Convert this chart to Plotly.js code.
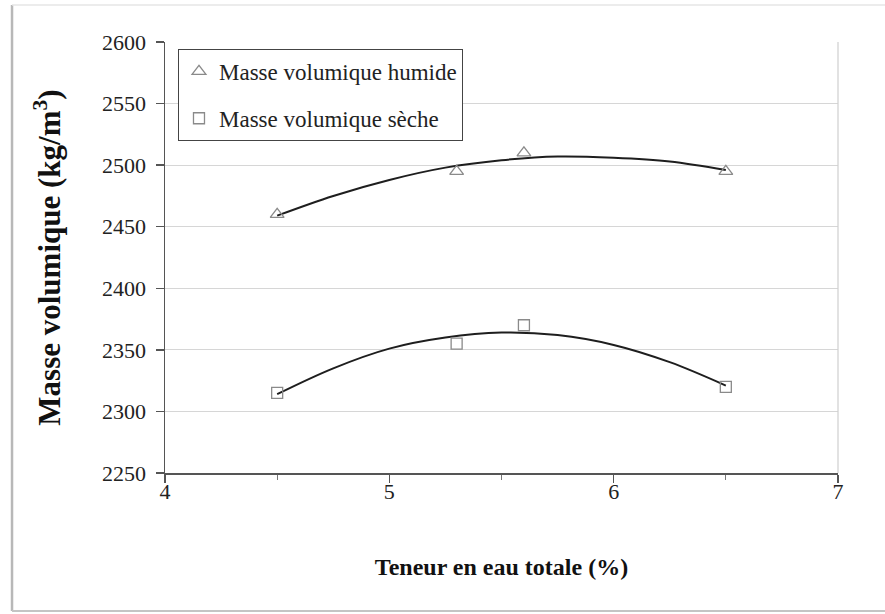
<!DOCTYPE html>
<html>
<head>
<meta charset="utf-8">
<script src="https://cdn.plot.ly/plotly-3.0.1.min.js"></script>
<style>
  html, body { margin: 0; padding: 0; background: #ffffff; }
  #chart { width: 885px; height: 614px; }
</style>
</head>
<body>
<div id="chart"></div>
<script>
// Measured points
const waterContent = [4.5, 5.3, 5.6, 6.5];
const densityWet = [2460, 2495, 2510, 2495];
const densityDry = [2315, 2355, 2370, 2320];

// Trend curves
const trendX = [4.5, 4.75, 5.0, 5.25, 5.5, 5.75, 6.0, 6.25, 6.5];
const trendWet = [2459, 2475, 2488, 2498, 2504, 2507, 2506, 2503, 2496];
const trendDry = [2314, 2335, 2351, 2360, 2364, 2362, 2354, 2340, 2321];

// Tick labels
const xTickValues = [4, 5, 6, 7];
const yTickValues = [2250, 2300, 2350, 2400, 2450, 2500, 2550, 2600];

const seriesNames = ['Masse volumique humide', 'Masse volumique sèche'];
const xTitle = 'Teneur en eau totale (%)';
const yTitle = 'Masse volumique (kg/m<sup>3</sup>)';

const serif = 'Liberation Serif';
const markerGray = '#8a8a8a';
const curveColor = '#1e1e1e';
const wrapSerif = s => '<span style="font-family:Liberation Serif">' + s + '</span>';

const traces = [
  { x: trendX, y: trendWet, type: 'scatter', mode: 'lines', line: { color: curveColor, width: 2, shape: 'spline' }, showlegend: false, hoverinfo: 'skip' },
  { x: trendX, y: trendDry, type: 'scatter', mode: 'lines', line: { color: curveColor, width: 2, shape: 'spline' }, showlegend: false, hoverinfo: 'skip' },
  { x: waterContent, y: densityWet, type: 'scatter', mode: 'markers', name: wrapSerif(seriesNames[0]), legendgroup: 'a',
    marker: { symbol: 'triangle-up-open', size: 12, color: markerGray, line: { width: 1.3, color: markerGray } } },
  { x: waterContent, y: densityDry, type: 'scatter', mode: 'markers', name: wrapSerif(seriesNames[1]), legendgroup: 'b',
    marker: { symbol: 'square-open', size: 11, color: markerGray, line: { width: 1.3, color: markerGray } } }
];

const layout = {
  width: 885, height: 614,
  margin: { l: 165, r: 47, t: 42, b: 141 },
  paper_bgcolor: '#ffffff', plot_bgcolor: '#ffffff',
  font: { family: serif, color: '#222222', size: 21 },
  showlegend: true,
  legend: {
    x: 0.0193, y: 0.984, xanchor: 'left', yanchor: 'top',
    bgcolor: '#ffffff', bordercolor: '#444444', borderwidth: 1,
    font: { family: serif, size: 23, color: '#222222' },
    tracegroupgap: 14, itemwidth: 30
  },
  xaxis: {
    range: [4, 7], tickmode: 'array', tickvals: xTickValues, ticktext: xTickValues.map(v => wrapSerif(String(v))),
    showgrid: false, zeroline: false,
    showline: true, linecolor: '#555555', linewidth: 1.5,
    ticks: 'outside', ticklen: 8, tickwidth: 1.3, tickcolor: '#555555',
    minor: { dtick: 0.5, tick0: 4, ticks: 'outside', ticklen: 5, tickcolor: '#777777', tickwidth: 1, showgrid: false },
    tickfont: { family: serif, size: 22, color: '#222222' },
    ticklabelstandoff: -10,
    title: { text: xTitle, font: { family: serif, size: 24, color: '#111111', weight: 'bold' }, standoff: 55 },
    automargin: false, fixedrange: true
  },
  yaxis: {
    range: [2250, 2600], tickmode: 'array', tickvals: yTickValues, ticktext: yTickValues.map(v => wrapSerif(String(v))),
    showgrid: true, gridcolor: '#d6d6d6', gridwidth: 1,
    zeroline: false,
    showline: true, linecolor: '#555555', linewidth: 1.5,
    ticks: 'outside', ticklen: 8, tickwidth: 1.3, tickcolor: '#555555',
    tickfont: { family: serif, size: 22, color: '#222222' },
    ticklabelstandoff: 5,
    title: { text: yTitle, font: { family: serif, size: 31, color: '#111111', weight: 'bold' }, standoff: 32 },
    automargin: false, fixedrange: true
  },
  shapes: [
    { type: 'line', xref: 'paper', yref: 'paper', x0: 1, x1: 1, y0: 0, y1: 1, line: { color: '#cfcfcf', width: 1.2 } },
    { type: 'line', xref: 'paper', yref: 'paper', x0: -0.2273, x1: -0.2273, y0: -0.320, y1: 1.086, line: { color: '#b8b8b8', width: 2.5 } },
    { type: 'line', xref: 'paper', yref: 'paper', x0: -0.2273, x1: 1.07, y0: 1.086, y1: 1.086, line: { color: '#e6e6e6', width: 1.5 } },
    { type: 'line', xref: 'paper', yref: 'paper', x0: -0.2273, x1: 1.07, y0: -0.320, y1: -0.320, line: { color: '#c4c4c4', width: 2 } }
  ]
};

Plotly.newPlot('chart', traces, layout, { displayModeBar: false, staticPlot: true });
</script>
</body>
</html>
